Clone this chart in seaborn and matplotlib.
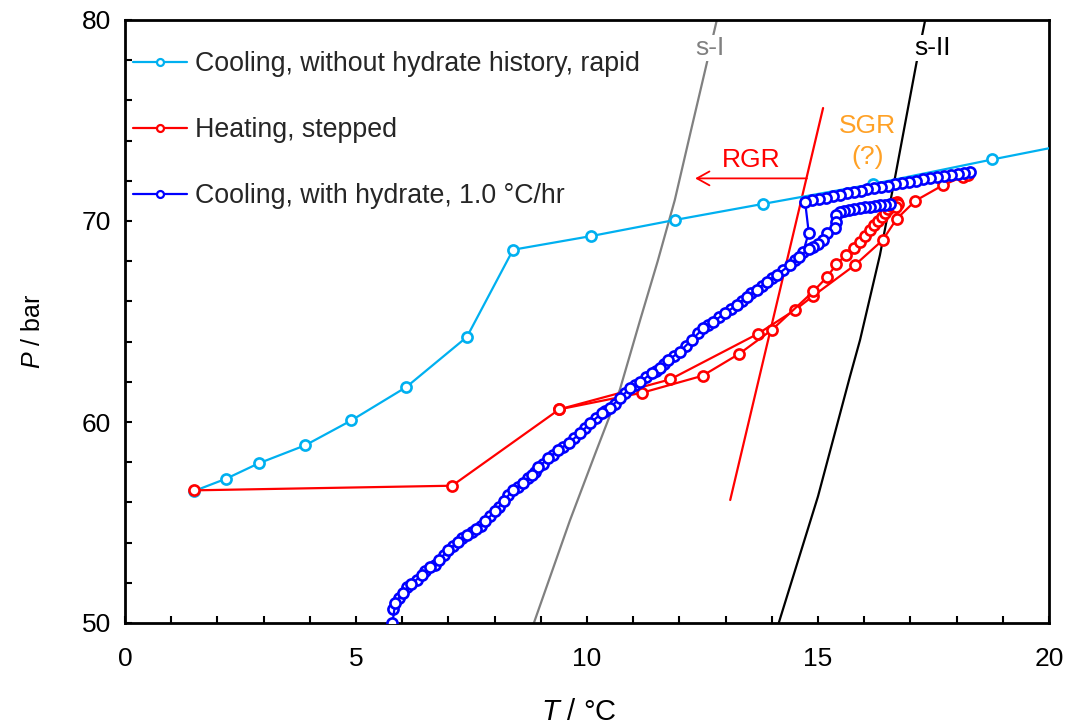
import matplotlib
matplotlib.use("Agg")
import matplotlib.pyplot as plt
import numpy as np
import pandas as pd
import seaborn as sns
from matplotlib.lines import Line2D
from matplotlib.ticker import MultipleLocator

sns.set_theme(style="white")
plt.rcParams["font.family"] = ["Liberation Sans", "DejaVu Sans"]
plt.rcParams["mathtext.fontset"] = "custom"
plt.rcParams["mathtext.rm"] = "Liberation Sans"
plt.rcParams["mathtext.it"] = "Liberation Sans:italic"

series_names = [
    "Cooling, without hydrate history, rapid",
    "Heating, stepped",
    "Cooling, with hydrate, 1.0 °C/hr",
]
series_colors = ["#00B0F0", "#FF0000", "#0000FF"]

# Cooling without hydrate history (rapid)
rapid_T = [1.50, 2.19, 2.89, 3.90, 4.90, 6.09, 7.40, 8.40, 10.09, 11.90, 13.81, 16.19, 18.77, 21.50]
rapid_P = [56.57, 57.18, 57.94, 58.84, 60.08, 61.74, 64.23, 68.57, 69.25, 70.05, 70.85, 71.84, 73.06, 74.30]

# Heating, stepped: two branches leaving the 9.4 °C point
heat_a_T = [1.50, 7.08, 9.40, 11.80, 13.70, 14.50, 14.90, 15.80, 16.40, 16.70, 17.11, 17.71, 18.13, 18.25]
heat_a_P = [56.60, 56.83, 60.63, 62.12, 64.39, 65.57, 66.28, 67.81, 69.05, 70.10, 71.01, 71.79, 72.20, 72.30]
heat_b_T = [9.40, 11.20, 12.50, 13.30, 14.00, 14.90, 15.19, 15.40, 15.60, 15.78, 15.91, 16.02, 16.13,
            16.22, 16.30, 16.38, 16.45, 16.52, 16.58, 16.64, 16.70, 16.74, 16.68]
heat_b_P = [60.63, 61.46, 62.30, 63.40, 64.58, 66.50, 67.20, 67.85, 68.30, 68.64, 68.97, 69.25, 69.55,
            69.80, 70.02, 70.22, 70.42, 70.60, 70.75, 70.88, 70.95, 70.85, 70.72]

# Cooling with hydrate: first run starts at 18.3 °C
cool1_top_T = [18.30, 18.16, 18.02, 17.87, 17.72, 17.57, 17.42, 17.27, 17.12, 16.97, 16.82, 16.67, 16.52,
               16.37, 16.22, 16.07, 15.92, 15.77, 15.62, 15.47, 15.32, 15.17, 15.02, 14.87, 14.72, 14.80]
cool1_top_P = [72.46, 72.41, 72.36, 72.30, 72.25, 72.19, 72.13, 72.07, 72.01, 71.95, 71.89, 71.83, 71.76,
               71.70, 71.63, 71.57, 71.50, 71.44, 71.37, 71.30, 71.23, 71.16, 71.09, 71.03, 70.97, 69.42]
# second run starts at 16.55 °C
cool2_top_T = [16.55, 16.45, 16.34, 16.23, 16.12, 16.01, 15.90, 15.79, 15.68, 15.57, 15.48, 15.40, 15.40,
               15.37, 15.19, 15.10, 15.00, 14.90, 14.80]
cool2_top_P = [70.84, 70.82, 70.78, 70.75, 70.72, 70.68, 70.64, 70.60, 70.56, 70.51, 70.46, 70.30, 69.97,
               69.65, 69.42, 69.05, 68.88, 68.72, 68.60]
# common descent below 14.7 °C (readings alternate between the two runs)
descent_T = [14.68, 14.58, 14.50, 14.39, 14.25, 14.11, 14.00, 13.89, 13.78, 13.67, 13.56, 13.46, 13.35, 13.24,
             13.12, 12.99, 12.86, 12.73, 12.62, 12.52, 12.40, 12.27, 12.14, 12.01, 11.88, 11.76, 11.67, 11.58,
             11.49, 11.40, 11.28, 11.15, 11.04, 10.93, 10.82, 10.71, 10.61, 10.50, 10.40, 10.32, 10.20, 10.06,
             9.95, 9.85, 9.72, 9.60, 9.49, 9.38, 9.27, 9.16, 9.05, 8.95, 8.87, 8.80, 8.73, 8.62, 8.51, 8.39,
             8.30, 8.20, 8.10, 8.00, 7.90, 7.80, 7.70, 7.60, 7.50, 7.40, 7.30, 7.20, 7.10, 7.00, 6.90, 6.80,
             6.70, 6.60, 6.49, 6.42, 6.31, 6.20, 6.11, 6.01, 5.92, 5.85, 5.80, 5.79]
descent_P = [68.47, 68.22, 68.06, 67.81, 67.55, 67.31, 67.15, 66.98, 66.78, 66.57, 66.40, 66.23, 66.02, 65.82,
             65.62, 65.41, 65.20, 64.99, 64.82, 64.66, 64.45, 64.10, 63.80, 63.50, 63.28, 63.08, 62.87, 62.67,
             62.55, 62.42, 62.22, 62.00, 61.84, 61.68, 61.43, 61.18, 60.90, 60.72, 60.55, 60.43, 60.20, 59.93,
             59.68, 59.44, 59.20, 58.94, 58.77, 58.61, 58.36, 58.20, 57.91, 57.75, 57.53, 57.38, 57.20, 56.95,
             56.78, 56.62, 56.35, 56.05, 55.75, 55.55, 55.32, 55.05, 54.85, 54.68, 54.52, 54.38, 54.22, 54.03,
             53.83, 53.63, 53.40, 53.15, 52.88, 52.80, 52.59, 52.39, 52.14, 51.92, 51.79, 51.50, 51.25, 51.00,
             50.70, 50.02]

# Equilibrium curves and the RGR boundary
sI_T = [8.85, 9.63, 10.19, 10.71, 11.15, 11.53, 11.90, 12.24, 12.55, 12.81]
sI_P = [50.0, 55.1, 58.5, 61.6, 65.07, 68.0, 71.04, 74.4, 77.43, 80.0]
sII_T = [14.15, 15.00, 15.69, 15.91, 16.34, 16.67, 17.13, 17.32]
sII_P = [50.0, 56.3, 62.25, 64.08, 68.3, 72.2, 77.85, 80.0]
rgr_T = [13.10, 15.11]
rgr_P = [56.12, 75.62]


def frame(T, P, series, run):
    return pd.DataFrame({"T": T, "P": P, "series": series, "run": run})


df = pd.concat([
    frame(rapid_T, rapid_P, series_names[0], "r1"),
    frame(heat_a_T, heat_a_P, series_names[1], "h1"),
    frame(heat_b_T, heat_b_P, series_names[1], "h2"),
    frame(cool1_top_T + descent_T[0::2], cool1_top_P + descent_P[0::2], series_names[2], "c1"),
    frame(cool2_top_T + descent_T[1::2], cool2_top_P + descent_P[1::2], series_names[2], "c2"),
], ignore_index=True)

fig = plt.figure(figsize=(10.74, 7.28), dpi=100)
ax = fig.add_axes([125 / 1074, 1 - 623 / 728, 924 / 1074, 603 / 728])

# boundary curves (behind the data)
sns.lineplot(x=sI_T, y=sI_P, color="#808080", lw=1.6, sort=False, estimator=None, ax=ax, zorder=1)
sns.lineplot(x=sII_T, y=sII_P, color="black", lw=1.6, sort=False, estimator=None, ax=ax, zorder=1)
sns.lineplot(x=rgr_T, y=rgr_P, color="#FF0000", lw=1.6, sort=False, estimator=None, ax=ax, zorder=1)

sns.lineplot(data=df, x="T", y="P", hue="series", units="run", estimator=None, sort=False,
             hue_order=series_names, palette=series_colors, marker="o", markersize=7.3,
             linewidth=1.6, legend=False, ax=ax)

for ln in ax.lines:
    if ln.get_marker() == "o":
        ln.set_markerfacecolor("white")
        ln.set_markeredgecolor(ln.get_color())
        ln.set_markeredgewidth(1.9)
        ln.set_zorder(3)

ax.set_xlim(0, 20)
ax.set_ylim(50, 80)
ax.xaxis.set_major_locator(MultipleLocator(5))
ax.xaxis.set_minor_locator(MultipleLocator(1))
ax.yaxis.set_major_locator(MultipleLocator(10))
ax.yaxis.set_minor_locator(MultipleLocator(2))
ax.tick_params(which="both", direction="in", top=False, right=False, bottom=True, left=True,
               width=1.5, color="black", length=5)
ax.tick_params(axis="x", pad=17)
ax.tick_params(axis="y", pad=10)
for lab in ax.get_xticklabels() + ax.get_yticklabels():
    lab.set_fontsize(19)
    lab.set_color("black")
for sp in ax.spines.values():
    sp.set_visible(True)
    sp.set_color("black")
    sp.set_linewidth(2)
ax.grid(False)

ax.set_xlabel(r"$\it{T}$ / °C", fontsize=21, color="black")
ax.set_ylabel(r"$\it{P}$ / bar", fontsize=18, color="black")
ax.xaxis.set_label_coords(0.491, -0.125)
ax.yaxis.set_label_coords(-0.087, 0.484)

# annotations
ax.annotate("", xy=(12.34, 72.12), xytext=(14.76, 72.12),
            arrowprops=dict(arrowstyle="->,head_length=0.45,head_width=0.25", color="#FF0000",
                            lw=1.3, mutation_scale=20, shrinkA=0, shrinkB=0))
ax.text(13.55, 73.05, "RGR", color="#FF0000", fontsize=19, ha="center", va="center")
ax.text(16.08, 73.95, "SGR\n(?)", color="#FFA126", fontsize=19, ha="center", va="center",
        linespacing=1.4)
ax.text(12.66, 78.6, "s-I", color="#808080", fontsize=19, ha="center", va="center",
        bbox=dict(facecolor="white", edgecolor="none", pad=1))
ax.text(17.49, 78.6, "s-II", color="black", fontsize=19, ha="center", va="center",
        bbox=dict(facecolor="white", edgecolor="none", pad=1))

handles = [Line2D([0], [0], color=c, lw=1.6, marker="o", markersize=5, markerfacecolor="white",
                  markeredgecolor=c, markeredgewidth=1.6) for c in series_colors]
ax.legend(handles, series_names, loc="upper left", bbox_to_anchor=(0.0, 0.962), frameon=False,
          fontsize=19.3, handlelength=2.0, handletextpad=0.3, labelspacing=1.5, borderaxespad=0,
          borderpad=0.3)

fig.savefig("out.png", dpi=100)
